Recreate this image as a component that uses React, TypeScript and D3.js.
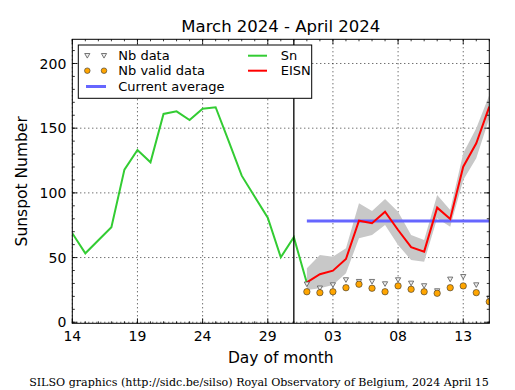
import * as d3 from "d3";
import React from "react";

// Sn (daily sunspot number), from 2024-03-14 to 2024-04-01
const snStart = "2024-03-14";
const snValues = [68.8, 53.3, 63.4, 73.4, 118, 133.2, 123.6, 161, 163, 156.3, 165, 166.2, 140, 113.3, 97, 80.8, 50.2, 65.7, 30.4];

// EISN (estimated), from 2024-04-01 to 2024-04-15
const eisnStart = "2024-04-01";
const eisnValues = [30.9, 37.1, 39.9, 48.9, 78.5, 76.5, 85.5, 71.3, 58, 54.6, 88.6, 79.8, 120.2, 138.3, 166.6];
const eisnUpper = [41.7, 52, 50.7, 57.2, 92, 86, 95.3, 85.5, 67.5, 63.6, 98.4, 86.8, 130.6, 150, 175.7];
const eisnLower = [25, 26.3, 28.8, 37.9, 64.9, 67.5, 75.2, 59.7, 48.1, 46.8, 80.4, 73.9, 110, 126.7, 157.7];

// number of stations
const nbData = [29.4, 26.3, 28.8, 32.7, 31.4, 31.4, 29.6, 32.7, 30.1, 28.1, 24.2, 33.2, 35.2, 28.8, 18.5];
const nbValid = [23.6, 22.9, 23.6, 26.7, 29.4, 26.3, 23.6, 28.1, 25.5, 23.6, 22.4, 26.7, 28.1, 22.9, 15.9];

const currentAverage = 78.3;
const yTicks = [0, 50, 100, 150, 200];
const xTickDays = ["2024-03-14", "2024-03-19", "2024-03-24", "2024-03-29", "2024-04-03", "2024-04-08", "2024-04-13"];

const W = 515;
const H = 390;
const left = 72.3, right = 489.3, top = 39.3, bottom = 323.3;
const font = "DejaVu Sans, sans-serif";

const day = (s: string) => new Date(s + "T00:00:00Z");
const seq = (start: string, n: number) => d3.range(n).map((i) => d3.utcDay.offset(day(start), i));

export default function App() {
  const x = d3.scaleUtc().domain([day("2024-03-14"), day("2024-04-15")]).range([left, right]);
  const y = d3.scaleLinear().domain([-0.8, 218.7]).range([bottom, top]);

  const snDates = seq(snStart, snValues.length);
  const eDates = seq(eisnStart, eisnValues.length);

  const line = d3
    .line<[Date, number]>()
    .x((d) => x(d[0]))
    .y((d) => y(d[1]));
  const band = d3
    .area<number>()
    .x((_, i) => x(eDates[i]))
    .y0((_, i) => y(eisnLower[i]))
    .y1((_, i) => y(eisnUpper[i]));

  const minorX = d3.utcDay.range(day("2024-03-14"), day("2024-04-16"));
  const minorY = d3.range(0, 220, 10);
  const fmt = d3.utcFormat("%d");
  const tri = (cx: number, cy: number) =>
    `M${cx - 2.6},${cy - 2.2}L${cx + 2.6},${cy - 2.2}L${cx},${cy + 2.4}Z`;

  return (
    <svg width={W} height={H} style={{ position: "absolute", left: 0, top: 0, background: "#fff" }}>
      <defs>
        <clipPath id="plot">
          <rect x={left} y={top} width={right - left} height={bottom - top} />
        </clipPath>
      </defs>
      <text x={(left + right) / 2} y={32} textAnchor="middle" fontFamily={font} fontSize={16.5}>
        March 2024 - April 2024
      </text>

      {/* grid */}
      <g stroke="#000" strokeWidth={0.8} strokeDasharray="1,3">
        {xTickDays.map((d) => (
          <line key={d} x1={x(day(d))} x2={x(day(d))} y1={top} y2={bottom} />
        ))}
        {yTicks.map((v) => (
          <line key={v} x1={left} x2={right} y1={y(v)} y2={y(v)} />
        ))}
      </g>

      <g clipPath="url(#plot)">
        <path d={band(eisnValues) || ""} fill="#c8c8c8" />
        <line
          x1={x(eDates[0])}
          x2={x(eDates[eDates.length - 1])}
          y1={y(currentAverage)}
          y2={y(currentAverage)}
          stroke="#6666ff"
          strokeWidth={3}
        />
        <path d={line(snDates.map((d, i) => [d, snValues[i]])) || ""} fill="none" stroke="#33cc33" strokeWidth={2} />
        <line x1={x(day("2024-03-31"))} x2={x(day("2024-03-31"))} y1={top} y2={bottom} stroke="#000" strokeWidth={1.3} />
        <path d={line(eDates.map((d, i) => [d, eisnValues[i]])) || ""} fill="none" stroke="#ff0000" strokeWidth={2} />
        {eDates.map((d, i) => (
          <path key={"t" + i} d={tri(x(d), y(nbData[i]))} fill="#eeeeee" stroke="#555" strokeWidth={0.8} />
        ))}
        {eDates.map((d, i) => (
          <circle key={"c" + i} cx={x(d)} cy={y(nbValid[i])} r={3.2} fill="#ffa500" stroke="#333" strokeWidth={0.6} />
        ))}
      </g>

      {/* ticks */}
      <g stroke="#000" strokeWidth={0.8}>
        {minorX.map((d, i) => (
          <g key={i}>
            <line x1={x(d)} x2={x(d)} y1={bottom} y2={bottom - 2} />
            <line x1={x(d)} x2={x(d)} y1={top} y2={top + 2} />
          </g>
        ))}
        {xTickDays.map((d) => (
          <g key={d}>
            <line x1={x(day(d))} x2={x(day(d))} y1={bottom} y2={bottom - 5} />
            <line x1={x(day(d))} x2={x(day(d))} y1={top} y2={top + 5} />
          </g>
        ))}
        {minorY.map((v) => (
          <g key={v}>
            <line x1={left} x2={left + 2.5} y1={y(v)} y2={y(v)} />
            <line x1={right} x2={right - 2.5} y1={y(v)} y2={y(v)} />
          </g>
        ))}
        {yTicks.map((v) => (
          <g key={v}>
            <line x1={left} x2={left + 5} y1={y(v)} y2={y(v)} />
            <line x1={right} x2={right - 5} y1={y(v)} y2={y(v)} />
          </g>
        ))}
      </g>
      <rect x={left} y={top} width={right - left} height={bottom - top} fill="none" stroke="#000" strokeWidth={1} />

      {yTicks.map((v) => (
        <text key={v} x={left - 6} y={y(v)} dy="0.36em" textAnchor="end" fontFamily={font} fontSize={14}>
          {v}
        </text>
      ))}
      {xTickDays.map((d) => (
        <text key={d} x={x(day(d))} y={341} textAnchor="middle" fontFamily={font} fontSize={14}>
          {fmt(day(d))}
        </text>
      ))}
      <text x={(left + right) / 2} y={363} textAnchor="middle" fontFamily={font} fontSize={15.5}>
        Day of month
      </text>
      <text
        transform={`translate(27,${(top + bottom) / 2}) rotate(-90)`}
        textAnchor="middle"
        fontFamily={font}
        fontSize={15.5}
      >
        Sunspot Number
      </text>

      {/* legend */}
      <g fontFamily={font} fontSize={13}>
        <rect x={78.3} y={45} width={233.4} height={53.3} fill="#fff" stroke="#000" strokeWidth={1} />
        <path d={tri(87.3, 55.7)} fill="#eeeeee" stroke="#555" strokeWidth={0.8} />
        <path d={tri(104, 55.7)} fill="#eeeeee" stroke="#555" strokeWidth={0.8} />
        <text x={118.3} y={55.7} dy="0.36em">Nb data</text>
        <circle cx={87.3} cy={70.7} r={2.8} fill="#ffa500" stroke="#333" strokeWidth={0.6} />
        <circle cx={104} cy={70.7} r={2.8} fill="#ffa500" stroke="#333" strokeWidth={0.6} />
        <text x={118.3} y={70.7} dy="0.36em">Nb valid data</text>
        <line x1={86} x2={106} y1={86.5} y2={86.5} stroke="#6666ff" strokeWidth={3} />
        <text x={118.3} y={86.5} dy="0.36em">Current average</text>
        <line x1={248} x2={267} y1={55.7} y2={55.7} stroke="#33cc33" strokeWidth={2} />
        <text x={280.7} y={55.7} dy="0.36em">Sn</text>
        <line x1={248} x2={267} y1={70.7} y2={70.7} stroke="#ff0000" strokeWidth={2} />
        <text x={280.7} y={70.7} dy="0.36em">EISN</text>
      </g>

      <text x={259} y={385.5} textAnchor="middle" fontFamily="DejaVu Serif, serif" fontSize={11.1}>
        SILSO graphics (http://sidc.be/silso) Royal Observatory of Belgium, 2024 April 15
      </text>
    </svg>
  );
}
